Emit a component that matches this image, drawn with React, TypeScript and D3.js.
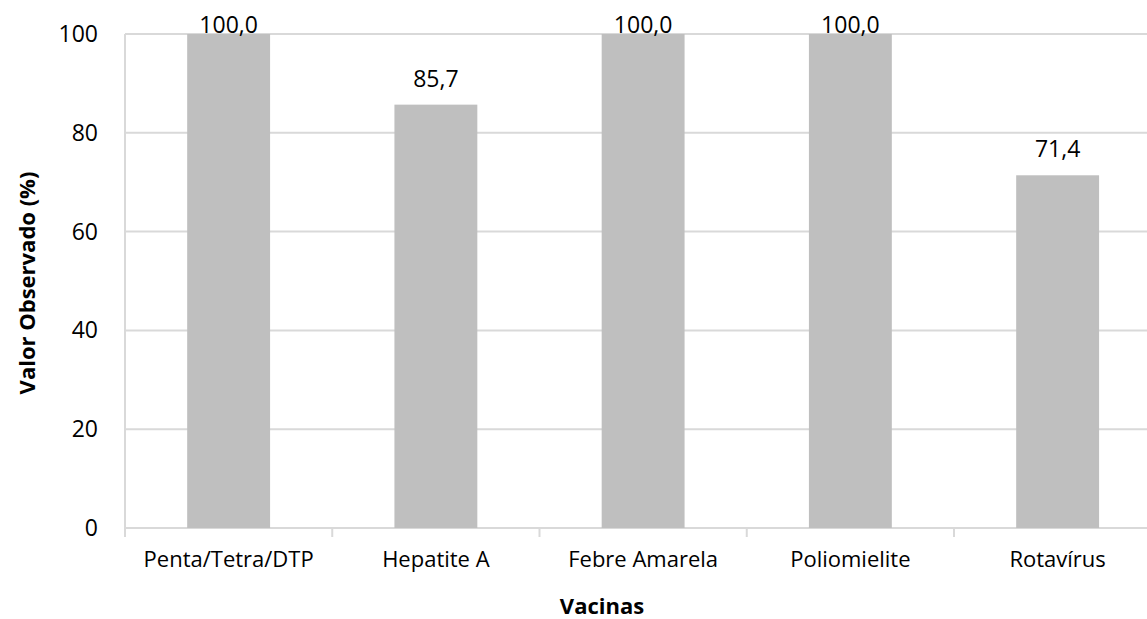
import { useEffect, useRef } from 'react';
import * as d3 from 'd3';

const categories = ['Penta/Tetra/DTP', 'Hepatite A', 'Febre Amarela', 'Poliomielite', 'Rotavírus'];
const values = [100.0, 85.7, 100.0, 100.0, 71.4];
const yTicks = [0, 20, 40, 60, 80, 100];

export default function App() {
  const svgRef = useRef<SVGSVGElement>(null);

  useEffect(() => {
    document.body.style.margin = '0';
    if (!svgRef.current) return;

    const svg = d3.select(svgRef.current);
    svg.selectAll('*').remove();

    const width = 1147;
    const height = 619;
    const left = 125;
    const right = 1161.25;
    const top = 34;
    const bottom = 528;
    const font = "'Open Sans', sans-serif";
    const gridColor = '#d9d9d9';

    svg.attr('width', width).attr('height', height).attr('viewBox', `0 0 ${width} ${height}`);

    const x = d3.scaleBand<string>().domain(categories).range([left, right]).padding(0);
    const y = d3.scaleLinear().domain([0, 100]).range([bottom, top]);

    // gridlines
    svg
      .append('g')
      .selectAll('line')
      .data(yTicks)
      .join('line')
      .attr('x1', left)
      .attr('x2', right)
      .attr('y1', (d) => y(d))
      .attr('y2', (d) => y(d))
      .attr('stroke', gridColor)
      .attr('stroke-width', 2);

    // y axis line
    svg
      .append('line')
      .attr('x1', left)
      .attr('x2', left)
      .attr('y1', top)
      .attr('y2', bottom + 9)
      .attr('stroke', gridColor)
      .attr('stroke-width', 2);

    // category boundary ticks
    svg
      .append('g')
      .selectAll('line')
      .data(categories)
      .join('line')
      .attr('x1', (d) => x(d)! + x.step())
      .attr('x2', (d) => x(d)! + x.step())
      .attr('y1', bottom)
      .attr('y2', bottom + 9)
      .attr('stroke', gridColor)
      .attr('stroke-width', 2);

    const barW = x.step() * 0.4;

    svg
      .append('g')
      .selectAll('rect')
      .data(values)
      .join('rect')
      .attr('x', (_, i) => x(categories[i])! + x.bandwidth() / 2 - barW / 2)
      .attr('width', barW)
      .attr('y', (d) => y(d))
      .attr('height', (d) => bottom - y(d))
      .attr('fill', '#bfbfbf');

    // value labels (kept inside the chart when the bar reaches the top)
    svg
      .append('g')
      .selectAll('text')
      .data(values)
      .join('text')
      .attr('x', (_, i) => x(categories[i])! + x.bandwidth() / 2)
      .attr('y', (d) => Math.max(y(d) - 18, y(100) - 1))
      .attr('text-anchor', 'middle')
      .attr('font-family', font)
      .attr('font-size', 23)
      .attr('fill', '#000')
      .text((d) => d.toFixed(1).replace('.', ','));

    // y tick labels
    svg
      .append('g')
      .selectAll('text')
      .data(yTicks)
      .join('text')
      .attr('x', 98)
      .attr('y', (d) => y(d))
      .attr('dy', '0.35em')
      .attr('text-anchor', 'end')
      .attr('font-family', font)
      .attr('font-size', 23)
      .attr('fill', '#000')
      .text((d) => d);

    // category labels
    svg
      .append('g')
      .selectAll('text')
      .data(categories)
      .join('text')
      .attr('x', (d) => x(d)! + x.bandwidth() / 2)
      .attr('y', 567)
      .attr('text-anchor', 'middle')
      .attr('font-family', font)
      .attr('font-size', 22)
      .attr('fill', '#000')
      .text((d) => d);

    svg
      .append('text')
      .attr('x', 602)
      .attr('y', 614)
      .attr('text-anchor', 'middle')
      .attr('font-family', font)
      .attr('font-weight', 'bold')
      .attr('font-size', 22)
      .attr('fill', '#000')
      .text('Vacinas');

    svg
      .append('text')
      .attr('transform', `translate(35,283) rotate(-90)`)
      .attr('text-anchor', 'middle')
      .attr('font-family', font)
      .attr('font-weight', 'bold')
      .attr('font-size', 22)
      .attr('fill', '#000')
      .text('Valor Observado (%)');
  }, []);

  return <svg ref={svgRef} style={{ display: 'block' }} />;
}
